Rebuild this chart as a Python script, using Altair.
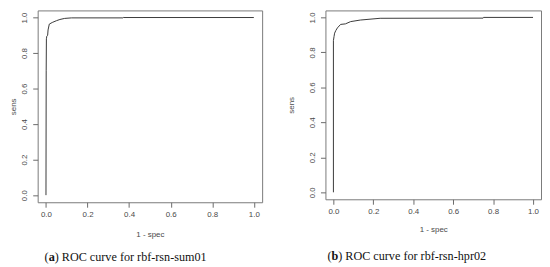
import altair as alt
import pandas as pd

# ROC curve (a): rbf-rsn-sum01
left_fpr = [0.0, 0.001, 0.002, 0.004, 0.008, 0.010, 0.016, 0.030, 0.050, 0.067, 0.090, 0.123, 0.370, 0.372, 1.0]
left_tpr = [0.0, 0.700, 0.880, 0.895, 0.900, 0.930, 0.963, 0.972, 0.982, 0.989, 0.995, 0.998, 0.998, 1.000, 1.0]

# ROC curve (b): rbf-rsn-hpr02
right_fpr = [0.0, 0.0, 0.003, 0.006, 0.012, 0.020, 0.036, 0.060, 0.086, 0.135, 0.234, 0.750, 0.752, 1.0]
right_tpr = [0.0, 0.867, 0.890, 0.910, 0.925, 0.940, 0.960, 0.963, 0.976, 0.985, 0.995, 0.996, 1.000, 1.0]

tick_values = [0.0, 0.2, 0.4, 0.6, 0.8, 1.0]
x_title = "1 - spec"
y_title = "sens"
captions = [("(", "a", ") ROC curve for rbf-rsn-sum01"),
            ("(", "b", ") ROC curve for rbf-rsn-hpr02")]

AX_FONT = "Liberation Sans"
CAP_FONT = "Liberation Serif"
CAP_SIZE = 12.3
BOLD_W = {"a": 0.5, "b": 0.556}


def panel(fpr, tpr, w, h, cap, cap_x, cap_y, ytitle_x, xtitle_y):
    df = pd.DataFrame({"fpr": fpr, "tpr": tpr, "order": list(range(len(fpr)))})
    xs = alt.Scale(domain=[-0.04, 1.04], nice=False, zero=False)
    ys = alt.Scale(domain=[-0.04, 1.04], nice=False, zero=False)
    line = alt.Chart(df).mark_line(color="#3a3a3a", strokeWidth=1).encode(
        x=alt.X("fpr:Q", scale=xs, axis=alt.Axis(
            values=tick_values, format=".1f", title=x_title,
            titleY=xtitle_y, titleBaseline="middle", labelPadding=3,
            titleFontWeight="normal")),
        y=alt.Y("tpr:Q", scale=ys, axis=alt.Axis(
            values=tick_values, format=".1f", title=y_title,
            labelAngle=270, labelAlign="center", labelBaseline="bottom",
            labelPadding=4, titleAngle=270, titleX=ytitle_x, titleY=h / 2,
            titleBaseline="middle", titleAlign="center",
            titleFontWeight="normal")),
        order="order:Q",
    )
    p1, letter, rest = cap
    x1 = cap_x + 0.333 * CAP_SIZE
    x2 = x1 + BOLD_W[letter] * CAP_SIZE
    t0 = alt.Chart(pd.DataFrame({"t": [p1]})).mark_text(
        font=CAP_FONT, fontSize=CAP_SIZE, align="left", baseline="middle", color="#111"
    ).encode(text="t:N", x=alt.value(cap_x), y=alt.value(cap_y))
    t1 = alt.Chart(pd.DataFrame({"t": [letter]})).mark_text(
        font=CAP_FONT, fontSize=CAP_SIZE, fontWeight="bold", align="left", baseline="middle", color="#111"
    ).encode(text="t:N", x=alt.value(x1), y=alt.value(cap_y))
    t2 = alt.Chart(pd.DataFrame({"t": [rest]})).mark_text(
        font=CAP_FONT, fontSize=CAP_SIZE, align="left", baseline="middle", color="#111"
    ).encode(text="t:N", x=alt.value(x2), y=alt.value(cap_y))
    return alt.layer(line, t0, t1, t2).properties(width=w, height=h)


left = panel(left_fpr, left_tpr, 227, 194, captions[0], 7, 249, -24, 33)
right = panel(right_fpr, right_tpr, 218, 191, captions[1], 2, 248, -34, 31)

chart = alt.hconcat(left, right, spacing=24).properties(
    padding={"left": 1, "top": 0, "right": 0, "bottom": 0},
    background="white",
).configure_view(
    stroke="#7a7a7a", strokeWidth=1
).configure_axis(
    domain=False, grid=False, tickColor="#6a6a6a", tickSize=5, tickWidth=1,
    labelColor="#4a4a4a", titleColor="#4a4a4a", labelFont=AX_FONT, titleFont=AX_FONT,
    labelFontSize=8, titleFontSize=8, titleFontWeight="normal"
)

chart.save("out.html", embed_options={"renderer": "svg", "actions": False})
